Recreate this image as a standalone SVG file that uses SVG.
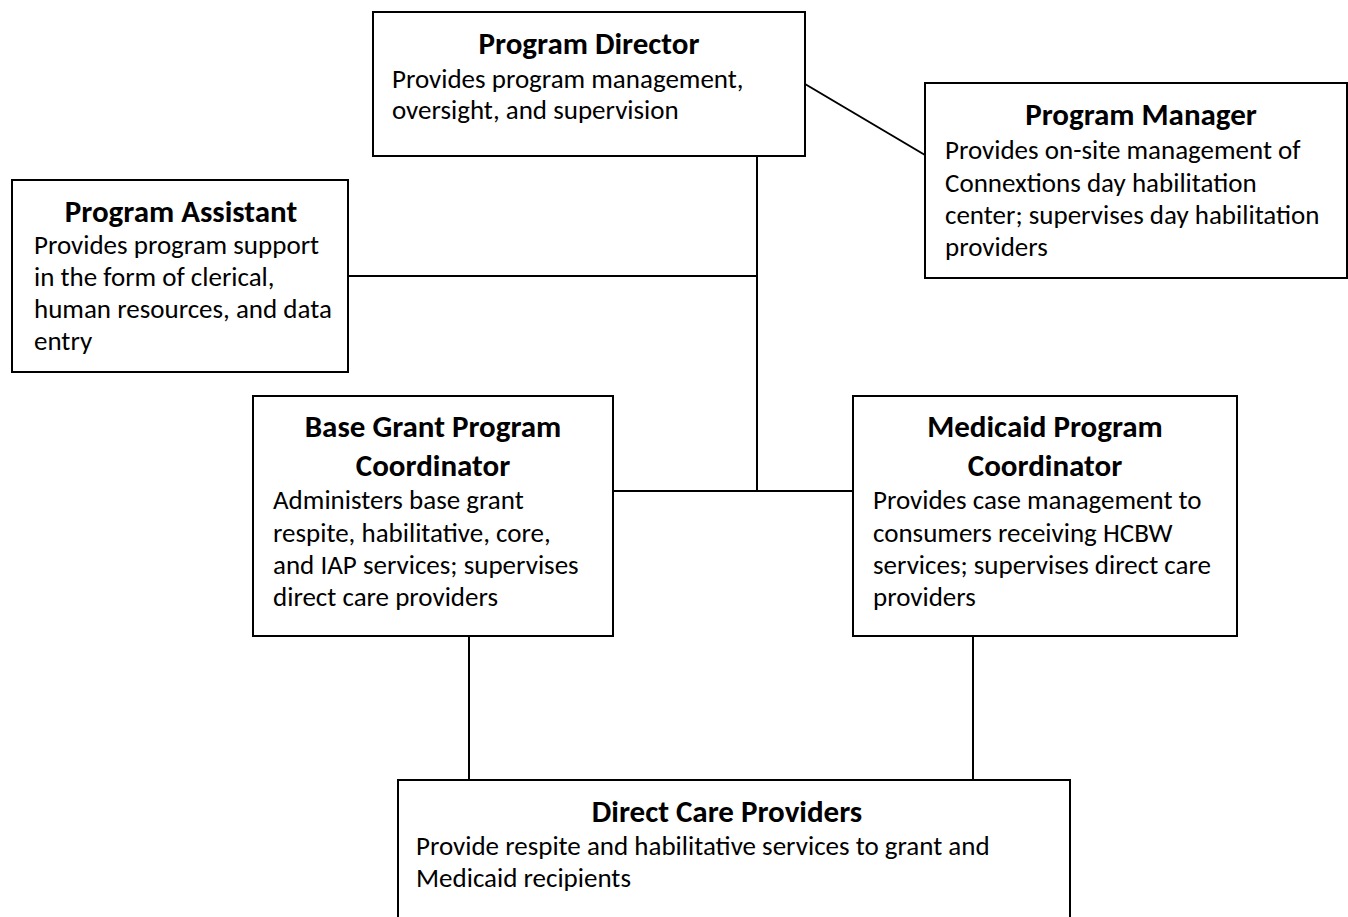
<svg xmlns="http://www.w3.org/2000/svg" width="1348" height="917" viewBox="0 0 1348 917">
  <style>
    .box { fill: #ffffff; stroke: #000000; stroke-width: 2; }
    .link { stroke: #000000; stroke-width: 2; fill: none; }
    .title { font-family: Carlito, Lato, "Liberation Sans", sans-serif; font-size: 31px; font-weight: bold; fill: #000; text-anchor: middle; }
    .body { font-family: Carlito, Lato, "Liberation Sans", sans-serif; font-size: 27px; fill: #000; }
  </style>
  <rect x="0" y="0" width="1348" height="917" fill="#ffffff"/>

  <g id="connectors">
    <line class="link" x1="805" y1="84" x2="925" y2="155"/>
    <line class="link" x1="757" y1="156" x2="757" y2="491"/>
    <line class="link" x1="348" y1="276" x2="757" y2="276"/>
    <line class="link" x1="613" y1="491" x2="853" y2="491"/>
    <line class="link" x1="469" y1="636" x2="469" y2="780"/>
    <line class="link" x1="973" y1="636" x2="973" y2="780"/>
  </g>

  <g id="program-director">
    <rect class="box" x="373" y="12" width="432" height="144"/>
    <text class="title" x="589" y="54">Program Director</text>
    <text class="body" x="392" y="88">Provides program management,</text>
    <text class="body" x="392" y="119">oversight, and supervision</text>
  </g>

  <g id="program-manager">
    <rect class="box" x="925" y="83" width="422" height="195"/>
    <text class="title" x="1141" y="125">Program Manager</text>
    <text class="body" x="945" y="159">Provides on-site management of</text>
    <text class="body" x="945" y="192">Connextions day habilitation</text>
    <text class="body" x="945" y="224">center; supervises day habilitation</text>
    <text class="body" x="945" y="256">providers</text>
  </g>

  <g id="program-assistant">
    <rect class="box" x="12" y="180" width="336" height="192"/>
    <text class="title" x="181" y="222">Program Assistant</text>
    <text class="body" x="34" y="254">Provides program support</text>
    <text class="body" x="34" y="286">in the form of clerical,</text>
    <text class="body" x="34" y="318">human resources, and data</text>
    <text class="body" x="34" y="350">entry</text>
  </g>

  <g id="base-grant-coordinator">
    <rect class="box" x="253" y="396" width="360" height="240"/>
    <text class="title" x="433" y="437">Base Grant Program</text>
    <text class="title" x="433" y="476">Coordinator</text>
    <text class="body" x="273" y="509">Administers base grant</text>
    <text class="body" x="273" y="542">respite, habilitative, core,</text>
    <text class="body" x="273" y="574">and IAP services; supervises</text>
    <text class="body" x="273" y="606">direct care providers</text>
  </g>

  <g id="medicaid-coordinator">
    <rect class="box" x="853" y="396" width="384" height="240"/>
    <text class="title" x="1045" y="437">Medicaid Program</text>
    <text class="title" x="1045" y="476">Coordinator</text>
    <text class="body" x="873" y="509">Provides case management to</text>
    <text class="body" x="873" y="542">consumers receiving HCBW</text>
    <text class="body" x="873" y="574">services; supervises direct care</text>
    <text class="body" x="873" y="606">providers</text>
  </g>

  <g id="direct-care-providers">
    <rect class="box" x="398" y="780" width="672" height="150"/>
    <text class="title" x="727" y="822">Direct Care Providers</text>
    <text class="body" x="416" y="855">Provide respite and habilitative services to grant and</text>
    <text class="body" x="416" y="887">Medicaid recipients</text>
  </g>
</svg>
